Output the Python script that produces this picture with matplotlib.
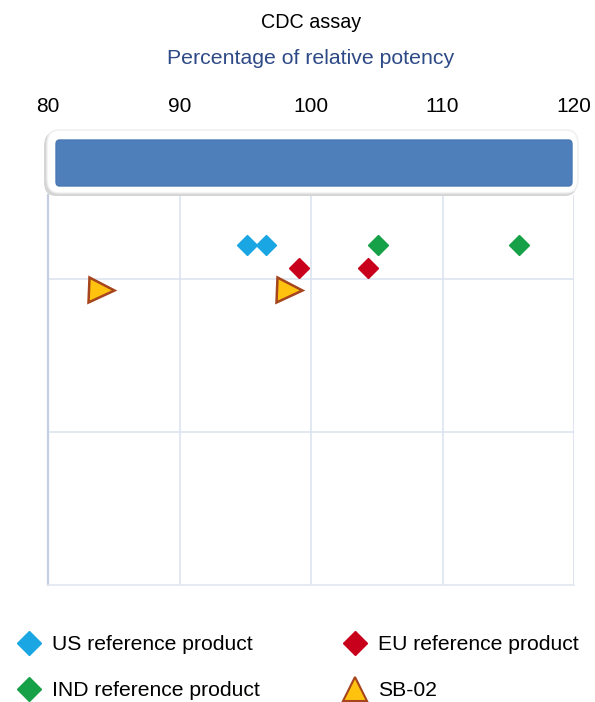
import numpy as np
import matplotlib.pyplot as plt
from matplotlib.patches import FancyBboxPatch
from matplotlib.lines import Line2D

plt.rcParams['font.family'] = ['Liberation Sans', 'DejaVu Sans']

# data
us_x = [95.1, 96.6]; us_y = [2.22, 2.22]
ind_x = [105.1, 115.8]; ind_y = [2.22, 2.22]
eu_x = [99.1, 104.3]; eu_y = [2.07, 2.07]
sb_x = [84.0, 98.3]; sb_y = [1.93, 1.93]
xticks = [80, 90, 100, 110, 120]

fig = plt.figure(figsize=(5.95, 7.02), dpi=100)
ax = fig.add_axes([48/595, 117/702, 526/595, 390/702])
ax.set_xlim(80, 120)
ax.set_ylim(0, 2.55)
ax.xaxis.tick_top()
ax.set_xticks(xticks)
ax.set_xticklabels([str(t) for t in xticks], fontsize=15)
ax.tick_params(axis='x', length=0, pad=57)
ax.set_yticks([1, 2])
ax.tick_params(axis='y', length=0, labelleft=False)
ax.grid(True, color='#dde4ef', lw=1.2)
for s in ['top', 'right']:
    ax.spines[s].set_visible(False)
ax.spines['left'].set_color('#c3cfe0'); ax.spines['left'].set_linewidth(1.6)
ax.spines['bottom'].set_color('#e2e8f1'); ax.spines['bottom'].set_linewidth(1.2)
ax.axvline(120, color='#dde4ef', lw=1.2)

ax.plot(us_x, us_y, 'D', color='#1aa6e2', ms=10, ls='none', label='US reference product')
ax.plot(ind_x, ind_y, 'D', color='#16a148', ms=10, ls='none', label='IND reference product')
ax.plot(eu_x, eu_y, 'D', color='#c8001c', ms=10, ls='none', label='EU reference product')
ax.plot(sb_x, sb_y, '>', color='#ffc20e', mec='#a5441d', mew=1.8, ms=18, ls='none')

# header box with blue bar
shadow = FancyBboxPatch((44/595, 506/702), 533/595, 64/702, boxstyle='round,pad=0,rounding_size=0.02',
                        transform=fig.transFigure, fc='#d5d5d5', ec='none', zorder=1)
box = FancyBboxPatch((47/595, 509/702), 531/595, 63/702, boxstyle='round,pad=0,rounding_size=0.02',
                     transform=fig.transFigure, fc='white', ec='#eeeeee', zorder=2)
bar = FancyBboxPatch((56/595, 516/702), 516/595, 46/702, boxstyle='round,pad=0,rounding_size=0.006',
                     transform=fig.transFigure, fc='#4f7fbb', ec='#4a78b2', zorder=3)
for p in [shadow, box, bar]:
    fig.patches.append(p)

fig.text(311/595, 1 - 22/702, 'CDC assay', ha='center', va='center', fontsize=14.2)
fig.text(311/595, 1 - 58/702, 'Percentage of relative potency', ha='center', va='center',
         fontsize=15.3, color='#2e4a86')

handles = [
    Line2D([], [], marker='D', color='#1aa6e2', ls='none', ms=12),
    Line2D([], [], marker='D', color='#16a148', ls='none', ms=12),
    Line2D([], [], marker='D', color='#c8001c', ls='none', ms=12),
    Line2D([], [], marker='^', color='#ffc20e', mec='#a5441d', mew=1.5, ls='none', ms=17),
]
labels = ['US reference product', 'IND reference product', 'EU reference product', 'SB-02']
fig.legend(handles, labels, ncol=2, loc='upper left', bbox_to_anchor=(-0.005, 1 - 616/702),
           frameon=False, fontsize=15.2, handletextpad=0.5, columnspacing=3.9, labelspacing=1.3,
           handlelength=1.2)

fig.savefig('out.png', dpi=100)
